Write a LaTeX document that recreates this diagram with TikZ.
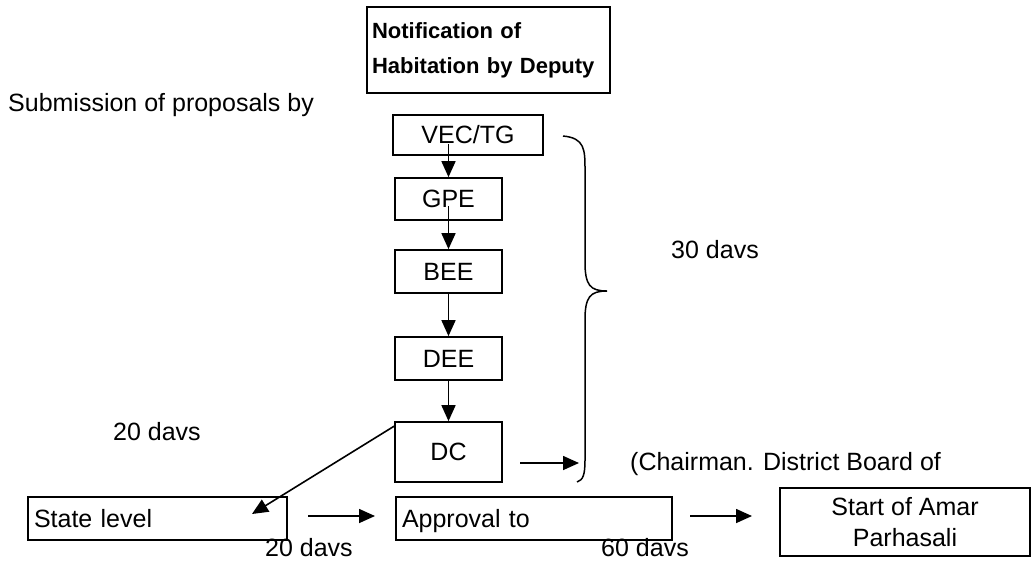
\documentclass[tikz,border=0pt]{standalone}
\usepackage{fontspec}
\setmainfont{Liberation Sans}
\usetikzlibrary{arrows.meta}
\begin{document}
\begin{tikzpicture}[x=1pt,y=-1pt,
  box/.style={draw,line width=1.7pt,inner sep=0pt,anchor=center,font=\fontsize{25}{30}\selectfont},
  lbl/.style={inner sep=0pt,font=\fontsize{25}{30}\selectfont},
  arr/.style={line width=1.6pt,-{Triangle[length=16pt,width=14pt]}}]
\useasboundingbox (0,0) rectangle (1036,566);
\node[box,line width=2pt,minimum width=243pt,minimum height=86pt,text width=233pt,align=left,font=\fontsize{22}{35}\bfseries] (notif) at (488.5,50) {Notification of\\Habitation by Deputy};
\node[lbl,anchor=west] (sub) at (8,105) {Submission of proposals by};
\node[box,minimum width=150pt,minimum height=40pt] (vec) at (468,135) {VEC/TG};
\node[box,minimum width=107pt,minimum height=42pt] (gpe) at (448.5,199) {GPE};
\node[box,minimum width=107pt,minimum height=43pt] (bee) at (448.5,271.5) {BEE};
\node[box,minimum width=107pt,minimum height=43pt] (dee) at (448.5,358.5) {DEE};
\node[box,minimum width=107pt,minimum height=60pt] (dc) at (448.5,452) {DC};
\node[box,minimum width=259pt,minimum height=43pt,text width=247pt,align=left,text depth=-3pt] (state) at (157.5,518.5) {State level};
\node[box,minimum width=276pt,minimum height=43pt,text width=264pt,align=left,text depth=-3pt] (appr) at (534,518.5) {Approval to};
\node[box,minimum width=250pt,minimum height=68pt,align=center,font=\fontsize{25}{31}\selectfont] (start) at (905,522) {Start of Amar\\Parhasali};
\node[lbl] (d20a) at (157,432) {20 davs};
\node[lbl] (d20b) at (309,548) {20 davs};
\node[lbl] (d60) at (645,548) {60 davs};
\node[lbl] (d30) at (715,250) {30 davs};
\node[lbl,anchor=west] (chair) at (630,464) {(Chairman. District Board of};
% vertical chain
\draw[arr] (vec.south -| gpe.north) ++(0,-12) -- (gpe.north);
\draw[arr] (gpe.south) ++(0,-15) -- (bee.north);
\draw[arr] (bee.south) -- (dee.north);
\draw[arr] (dee.south) -- (dc.north);
% diagonal to state level
\coordinate (st) at (252,514);
\draw[arr] (dc.north west) ++(0,5) -- (st);
% horizontal arrows
\coordinate (a1s) at (308,516); \coordinate (a1e) at (375,516);
\draw[arr] (a1s) -- (a1e);
\coordinate (a2s) at (690,516); \coordinate (a2e) at (752,516);
\draw[arr] (a2s) -- (a2e);
% brace
\coordinate (btop) at (563,136);
\coordinate (btip) at (607,291);
\coordinate (bbot) at (577,482);
\draw[line width=1.5pt] (btop) .. controls (585,138) and (585,150) .. (585,170)
  -- (585,262) .. controls (585,285) and (590,291) .. (btip)
  .. controls (590,291) and (585,297) .. (585,320)
  -- (585,460) .. controls (585,475) and (583,480) .. (bbot);
\coordinate (dca) at (520,463);
\draw[arr] (dca) -- (579,463);
\end{tikzpicture}
\end{document}
